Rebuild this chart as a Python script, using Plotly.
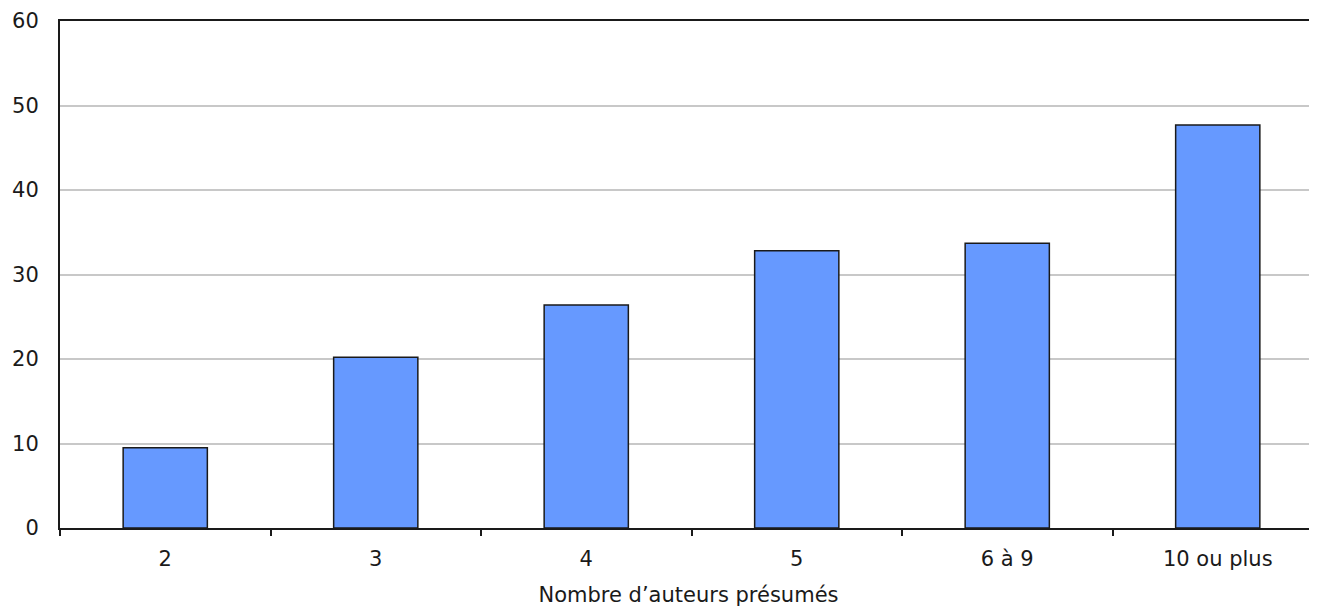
import plotly.graph_objects as go

categories = ["2", "3", "4", "5", "6 à 9", "10 ou plus"]
values = [9.5, 20.2, 26.4, 32.8, 33.7, 47.7]
y_ticks = [0, 10, 20, 30, 40, 50, 60]
x_title = "Nombre d\u2019auteurs présumés"

FONT = "DejaVu Sans"
TXT = "#1a1a1a"

fig = go.Figure(
    go.Bar(
        x=categories,
        y=values,
        width=0.4,
        marker=dict(color="#6699ff", line=dict(color="#1a1a1a", width=1.5)),
        hoverinfo="x+y",
    )
)

fig.update_layout(
    width=1309,
    height=599,
    margin=dict(l=52, r=0, t=13, b=79),
    paper_bgcolor="white",
    plot_bgcolor="white",
    showlegend=False,
    font=dict(family=FONT, size=21, color=TXT),
)

fig.update_xaxes(
    type="category",
    range=[-0.5, 5.4715],
    showgrid=False,
    showline=True,
    linecolor="#1a1a1a",
    linewidth=2,
    mirror=True,
    ticks="outside",
    tickson="boundaries",
    ticklen=6,
    tickwidth=1.5,
    tickcolor="#1a1a1a",
    tickfont=dict(family=FONT, size=21, color=TXT),
    ticklabelstandoff=11,
    automargin=False,
    title=dict(text=x_title, font=dict(family=FONT, size=21, color=TXT), standoff=18),
)

fig.update_yaxes(
    range=[0, 60],
    tickvals=y_ticks,
    showgrid=True,
    gridcolor="#c8c8c8",
    gridwidth=1.5,
    showline=True,
    linecolor="#1a1a1a",
    linewidth=2,
    ticks="",
    zeroline=False,
    automargin=False,
    tickfont=dict(family=FONT, size=21, color=TXT),
    ticklabelstandoff=15,
)

fig.write_html("out.html")
